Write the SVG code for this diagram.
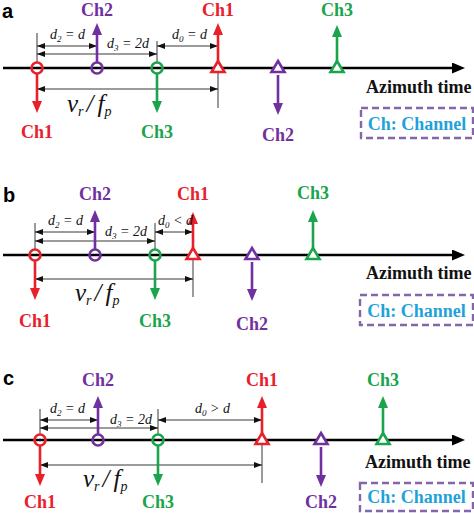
<svg xmlns="http://www.w3.org/2000/svg" width="474" height="513" viewBox="0 0 474 513">
<defs>
<style>
.ax{stroke:#000;stroke-width:2.6;fill:none}
.ext{stroke:#222;stroke-width:0.9;fill:none}
.dim{stroke:#222;stroke-width:0.9;fill:none;marker-start:url(#dh);marker-end:url(#dh)}
.r{stroke:#e8202a}.p{stroke:#7030a0}.g{stroke:#1aa44c}
.arr{stroke-width:2.6;fill:none}
.ar{marker-end:url(#mr)}.ap{marker-end:url(#mp)}.ag{marker-end:url(#mg)}
.circ{fill:none;stroke-width:2.6}
.tri{fill:#fff;stroke-width:2.6;stroke-linejoin:miter}
.ch{font-family:"Liberation Serif","Times New Roman",serif;font-weight:bold;font-size:18px;text-anchor:middle}
.tr{fill:#e8202a}.tp{fill:#7030a0}.tg{fill:#1aa44c}
.dl{font-family:"Liberation Serif","Times New Roman",serif;font-style:italic;font-size:14px;fill:#111}
.vf{font-family:"Liberation Serif","Times New Roman",serif;font-style:italic;font-size:25px;fill:#111}
.az{font-family:"Liberation Serif","Times New Roman",serif;font-weight:bold;font-size:18px;fill:#111}
.box{fill:none;stroke:#8466ab;stroke-width:2.4;stroke-dasharray:7 4}
.cc{font-family:"Liberation Serif","Times New Roman",serif;font-weight:bold;font-size:18px;fill:#1fa2da;text-anchor:middle}
.pl{font-family:"Liberation Sans",Arial,sans-serif;font-weight:bold;font-size:20px;fill:#000}
</style>
<marker id="dh" markerUnits="userSpaceOnUse" markerWidth="8" markerHeight="6" refX="8" refY="3" orient="auto-start-reverse"><path d="M0,0 L8,3 L0,6 z" fill="#111"/></marker>
<marker id="ma" markerUnits="userSpaceOnUse" markerWidth="13" markerHeight="11" refX="2" refY="5.5" orient="auto"><path d="M0,0 L13,5.5 L0,11 z" fill="#000"/></marker>
<marker id="mr" markerUnits="userSpaceOnUse" markerWidth="12" markerHeight="10" refX="2" refY="5" orient="auto"><path d="M0,0 L12,5 L0,10 z" fill="#e8202a"/></marker>
<marker id="mp" markerUnits="userSpaceOnUse" markerWidth="12" markerHeight="10" refX="2" refY="5" orient="auto"><path d="M0,0 L12,5 L0,10 z" fill="#7030a0"/></marker>
<marker id="mg" markerUnits="userSpaceOnUse" markerWidth="12" markerHeight="10" refX="2" refY="5" orient="auto"><path d="M0,0 L12,5 L0,10 z" fill="#1aa44c"/></marker>
</defs>

<!-- Panel a -->
<g id="panel-a">
<text class="pl" x="2" y="18">a</text>
<g id="a-connectors">
<line class="ax" x1="3" y1="68" x2="454" y2="68" marker-end="url(#ma)"/>
<line class="ext" x1="37" y1="33" x2="37" y2="62"/>
<line class="ext" x1="157" y1="41" x2="157" y2="62"/>
<line class="ext" x1="218" y1="40" x2="218" y2="108"/>
<line class="dim" x1="37" y1="46" x2="97" y2="46"/>
<line class="dim" x1="37" y1="54" x2="157" y2="54"/>
<line class="dim" x1="157" y1="46" x2="218" y2="46"/>
<line class="dim" x1="37" y1="89" x2="218" y2="89"/>
<line class="arr p ap" x1="97" y1="62.5" x2="97" y2="33"/>
<line class="arr r ar" x1="218" y1="61" x2="218" y2="33"/>
<line class="arr g ag" x1="337" y1="61" x2="337" y2="35"/>
<line class="arr r ar" x1="37" y1="74" x2="37" y2="103"/>
<line class="arr g ag" x1="157" y1="74" x2="157" y2="103"/>
<line class="arr p ap" x1="278" y1="75" x2="278" y2="105"/>
</g>
<g id="a-ch1-circle"><circle class="circ r" cx="37" cy="68" r="5.5"/></g>
<g id="a-ch2-circle"><circle class="circ p" cx="97" cy="68" r="5.5"/></g>
<g id="a-ch3-circle"><circle class="circ g" cx="157" cy="68" r="5.5"/></g>
<g id="a-ch1-tri"><polygon class="tri r" points="218,61 224.5,72 211.5,72"/></g>
<g id="a-ch2-tri"><polygon class="tri p" points="278,61 284.5,72 271.5,72"/></g>
<g id="a-ch3-tri"><polygon class="tri g" points="337,61 343.5,72 330.5,72"/></g>
<g id="a-labels">
<text class="ch tp" x="97" y="16">Ch2</text>
<text class="ch tr" x="218" y="16">Ch1</text>
<text class="ch tg" x="337" y="16">Ch3</text>
<text class="ch tr" x="37" y="138">Ch1</text>
<text class="ch tg" x="157" y="138">Ch3</text>
<text class="ch tp" x="278" y="141">Ch2</text>
<text class="dl" x="50" y="39">d<tspan font-size="9" dy="3">2</tspan><tspan dy="-3"> = d</tspan></text>
<text class="dl" x="107" y="48">d<tspan font-size="9" dy="3">3</tspan><tspan dy="-3"> = 2d</tspan></text>
<text class="dl" x="172" y="39">d<tspan font-size="9" dy="3">0</tspan><tspan dy="-3"> = d</tspan></text>
<text class="vf" x="67" y="112">v<tspan font-size="14" dy="4">r</tspan><tspan dy="-4" dx="3">/</tspan><tspan dx="4">f</tspan><tspan font-size="14" dy="4">p</tspan></text>
<text class="az" x="366" y="93">Azimuth time</text>
</g>
<g id="a-legend"><rect class="box" x="361" y="108" width="112" height="30"/><text class="cc" x="417" y="130">Ch: Channel</text></g>
</g>

<!-- Panel b -->
<g id="panel-b">
<text class="pl" x="3" y="202">b</text>
<g id="b-connectors">
<line class="ax" x1="3" y1="255" x2="454" y2="255" marker-end="url(#ma)"/>
<line class="ext" x1="35" y1="223" x2="35" y2="249"/>
<line class="ext" x1="155" y1="223" x2="155" y2="249"/>
<line class="ext" x1="193" y1="226" x2="193" y2="297"/>
<line class="dim" x1="35" y1="232" x2="95" y2="232"/>
<line class="dim" x1="35" y1="241" x2="155" y2="241"/>
<line class="dim" x1="155" y1="232" x2="193" y2="232"/>
<line class="dim" x1="35" y1="279" x2="193" y2="279"/>
<line class="arr p ap" x1="95" y1="249.5" x2="95" y2="220"/>
<line class="arr r ar" x1="193" y1="248" x2="193" y2="222"/>
<line class="arr g ag" x1="313" y1="248" x2="313" y2="220"/>
<line class="arr r ar" x1="35" y1="261" x2="35" y2="290"/>
<line class="arr g ag" x1="155" y1="261" x2="155" y2="290"/>
<line class="arr p ap" x1="252" y1="262" x2="252" y2="291"/>
</g>
<g id="b-ch1-circle"><circle class="circ r" cx="35" cy="255" r="5.5"/></g>
<g id="b-ch2-circle"><circle class="circ p" cx="95" cy="255" r="5.5"/></g>
<g id="b-ch3-circle"><circle class="circ g" cx="155" cy="255" r="5.5"/></g>
<g id="b-ch1-tri"><polygon class="tri r" points="193,248 199.5,259 186.5,259"/></g>
<g id="b-ch2-tri"><polygon class="tri p" points="252,248 258.5,259 245.5,259"/></g>
<g id="b-ch3-tri"><polygon class="tri g" points="313,248 319.5,259 306.5,259"/></g>
<g id="b-labels">
<text class="ch tp" x="95" y="200">Ch2</text>
<text class="ch tr" x="193" y="200">Ch1</text>
<text class="ch tg" x="313" y="199">Ch3</text>
<text class="ch tr" x="35" y="327">Ch1</text>
<text class="ch tg" x="155" y="327">Ch3</text>
<text class="ch tp" x="252" y="330">Ch2</text>
<text class="dl" x="48" y="225">d<tspan font-size="9" dy="3">2</tspan><tspan dy="-3"> = d</tspan></text>
<text class="dl" x="105" y="236">d<tspan font-size="9" dy="3">3</tspan><tspan dy="-3"> = 2d</tspan></text>
<text class="dl" x="158" y="225">d<tspan font-size="9" dy="3">0</tspan><tspan dy="-3"> &lt; d</tspan></text>
<text class="vf" x="75" y="301">v<tspan font-size="14" dy="4">r</tspan><tspan dy="-4" dx="3">/</tspan><tspan dx="4">f</tspan><tspan font-size="14" dy="4">p</tspan></text>
<text class="az" x="366" y="279">Azimuth time</text>
</g>
<g id="b-legend"><rect class="box" x="360" y="295" width="113" height="30"/><text class="cc" x="416.5" y="317">Ch: Channel</text></g>
</g>

<!-- Panel c -->
<g id="panel-c">
<text class="pl" x="3" y="385">c</text>
<g id="c-connectors">
<line class="ax" x1="3" y1="440" x2="454" y2="440" marker-end="url(#ma)"/>
<line class="ext" x1="40" y1="409" x2="40" y2="434"/>
<line class="ext" x1="158" y1="409" x2="158" y2="434"/>
<line class="ext" x1="262" y1="412" x2="262" y2="483"/>
<line class="dim" x1="40" y1="420" x2="98" y2="420"/>
<line class="dim" x1="40" y1="428" x2="158" y2="428"/>
<line class="dim" x1="158" y1="420" x2="262" y2="420"/>
<line class="dim" x1="40" y1="465" x2="262" y2="465"/>
<line class="arr p ap" x1="98" y1="434.5" x2="98" y2="406"/>
<line class="arr r ar" x1="262" y1="433" x2="262" y2="406"/>
<line class="arr g ag" x1="383" y1="433" x2="383" y2="406"/>
<line class="arr r ar" x1="40" y1="446" x2="40" y2="476"/>
<line class="arr g ag" x1="158" y1="446" x2="158" y2="476"/>
<line class="arr p ap" x1="321" y1="447" x2="321" y2="477"/>
</g>
<g id="c-ch1-circle"><circle class="circ r" cx="40" cy="440" r="5.5"/></g>
<g id="c-ch2-circle"><circle class="circ p" cx="98" cy="440" r="5.5"/></g>
<g id="c-ch3-circle"><circle class="circ g" cx="158" cy="440" r="5.5"/></g>
<g id="c-ch1-tri"><polygon class="tri r" points="262,433 268.5,444 255.5,444"/></g>
<g id="c-ch2-tri"><polygon class="tri p" points="321,433 327.5,444 314.5,444"/></g>
<g id="c-ch3-tri"><polygon class="tri g" points="383,433 389.5,444 376.5,444"/></g>
<g id="c-labels">
<text class="ch tp" x="98" y="386">Ch2</text>
<text class="ch tr" x="262" y="386">Ch1</text>
<text class="ch tg" x="383" y="386">Ch3</text>
<text class="ch tr" x="40" y="508">Ch1</text>
<text class="ch tg" x="158" y="508">Ch3</text>
<text class="ch tp" x="321" y="508">Ch2</text>
<text class="dl" x="50" y="413">d<tspan font-size="9" dy="3">2</tspan><tspan dy="-3"> = d</tspan></text>
<text class="dl" x="110" y="424">d<tspan font-size="9" dy="3">3</tspan><tspan dy="-3"> = 2d</tspan></text>
<text class="dl" x="195" y="413">d<tspan font-size="9" dy="3">0</tspan><tspan dy="-3"> &gt; d</tspan></text>
<text class="vf" x="83" y="487">v<tspan font-size="14" dy="4">r</tspan><tspan dy="-4" dx="3">/</tspan><tspan dx="4">f</tspan><tspan font-size="14" dy="4">p</tspan></text>
<text class="az" x="365" y="468">Azimuth time</text>
</g>
<g id="c-legend"><rect class="box" x="360" y="483" width="113" height="28"/><text class="cc" x="416.5" y="503">Ch: Channel</text></g>
</g>
</svg>
